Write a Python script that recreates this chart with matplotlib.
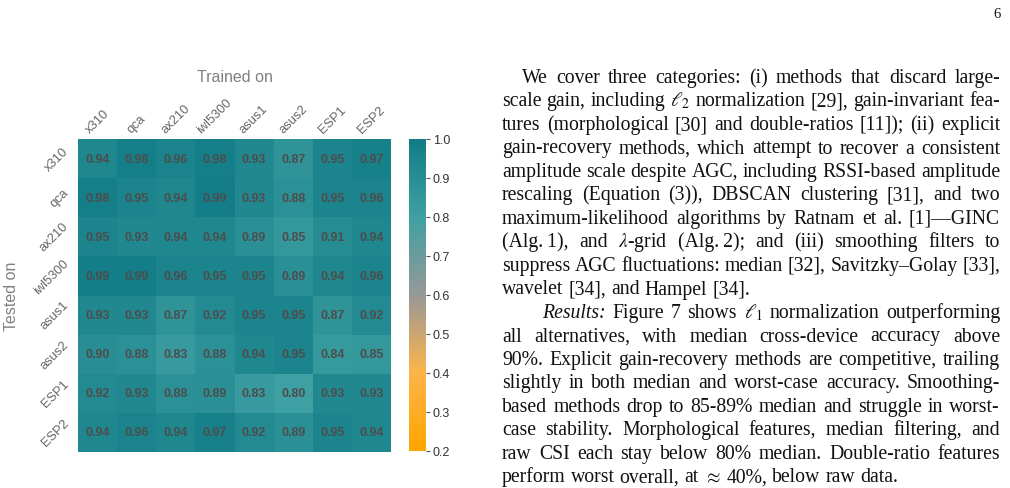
import matplotlib
matplotlib.use("Agg")
import matplotlib.pyplot as plt
import numpy as np
import seaborn as sns
from matplotlib.colors import LinearSegmentedColormap

# ---------------- data ----------------
devices = ["x310", "qca", "ax210", "iwl5300", "asus1", "asus2", "ESP1", "ESP2"]
row_x310 = [0.94, 0.98, 0.96, 0.98, 0.93, 0.87, 0.95, 0.97]
row_qca = [0.98, 0.95, 0.94, 0.99, 0.93, 0.88, 0.95, 0.96]
row_ax210 = [0.95, 0.93, 0.94, 0.94, 0.89, 0.85, 0.91, 0.94]
row_iwl5300 = [0.99, 0.99, 0.96, 0.95, 0.95, 0.89, 0.94, 0.96]
row_asus1 = [0.93, 0.93, 0.87, 0.92, 0.95, 0.95, 0.87, 0.92]
row_asus2 = [0.90, 0.88, 0.83, 0.88, 0.94, 0.95, 0.84, 0.85]
row_esp1 = [0.92, 0.93, 0.88, 0.89, 0.83, 0.80, 0.93, 0.93]
row_esp2 = [0.94, 0.96, 0.94, 0.97, 0.92, 0.89, 0.95, 0.94]
cbar_ticks = [0.2, 0.3, 0.4, 0.5, 0.6, 0.7, 0.8, 0.9, 1.0]

paragraph1 = [
    "We cover three categories: (i) methods that discard large-",
    "scale gain, including $\\ell_2$ normalization [29], gain-invariant fea-",
    "tures (morphological [30] and double-ratios [11]); (ii) explicit",
    "gain-recovery methods, which attempt to recover a consistent",
    "amplitude scale despite AGC, including RSSI-based amplitude",
    "rescaling (Equation (3)), DBSCAN clustering [31], and two",
    "maximum-likelihood algorithms by Ratnam et al. [1]\u2014GINC",
    "(Alg.\u20091), and $\\lambda$-grid (Alg.\u20092); and (iii) smoothing filters to",
    "suppress AGC fluctuations: median [32], Savitzky\u2013Golay [33],",
    "wavelet [34], and Hampel [34].",
]
paragraph2 = [
    "*Results:* Figure 7 shows $\\ell_1$ normalization outperforming",
    "all alternatives, with median cross-device accuracy above",
    "90%. Explicit gain-recovery methods are competitive, trailing",
    "slightly in both median and worst-case accuracy. Smoothing-",
    "based methods drop to 85-89% median and struggle in worst-",
    "case stability. Morphological features, median filtering, and",
    "raw CSI each stay below 80% median. Double-ratio features",
    "perform worst overall, at $\\approx$ 40%, below raw data.",
]

matrix = np.array([row_x310, row_qca, row_ax210, row_iwl5300,
                   row_asus1, row_asus2, row_esp1, row_esp2])

W, H = 1010, 489
fig = plt.figure(figsize=(W / 100, H / 100), dpi=100)
plt.rcParams["mathtext.fontset"] = "stix"

cmap = LinearSegmentedColormap.from_list(
    "orange_teal",
    [(0.0, "#ffa500"), (0.25, "#fdb44a"), (0.5, "#979898"),
     (0.75, "#3fa0a2"), (1.0, "#117c86")])

sans = ["Liberation Sans", "DejaVu Sans"]

def fx(px):
    return px / W

def fy(py):
    return 1 - py / H

ax = fig.add_axes([fx(78), fy(453), fx(391) - fx(78), fy(140) - fy(453)])
cax = fig.add_axes([fx(409), fy(452), fx(426) - fx(409), fy(139.5) - fy(452)])

sns.heatmap(matrix, ax=ax, cbar_ax=cax, cmap=cmap, vmin=0.2, vmax=1.0,
            annot=True, fmt=".2f",
            annot_kws={"fontsize": 9, "fontweight": "bold", "color": "#4d4d4d",
                       "family": sans},
            xticklabels=devices, yticklabels=devices,
            cbar_kws={"ticks": cbar_ticks})

ax.xaxis.tick_top()
ax.xaxis.set_label_position("top")
ax.tick_params(axis="both", length=0, labelsize=9.3, labelcolor="#666666")
ax.tick_params(axis="x", pad=3)
ax.tick_params(axis="y", pad=5)
for lab in ax.get_xticklabels():
    lab.set_rotation(45)
    lab.set_ha("center")
    lab.set_va("bottom")
    lab.set_family(sans)
for lab in ax.get_yticklabels():
    lab.set_rotation(45)
    lab.set_ha("right")
    lab.set_va("center")
    lab.set_family(sans)

ax.set_xlabel("Trained on", fontsize=11.5, color="#808080", family=sans)
ax.xaxis.label.set_va("center")
ax.xaxis.set_label_coords(0.5, (453 - 77) / 313)
ax.set_ylabel("Tested on", fontsize=11.5, color="#808080", family=sans)
ax.yaxis.label.set_va("center")
ax.yaxis.set_label_coords((12 - 78) / 313, 0.5)

cbar = ax.collections[0].colorbar
cbar.outline.set_visible(False)
cbar.set_ticks(cbar_ticks)
cbar.set_ticklabels([f"{t:.1f}" for t in cbar_ticks])
cax.tick_params(length=3, width=0.8, color="#555555", labelsize=9,
                labelcolor="#333333", pad=2)
for lab in cax.get_yticklabels():
    lab.set_family(sans)

# ---------------- justified body text ----------------
serif = ["Liberation Serif", "DejaVu Serif"]
FS = 14.2
left, right = 502, 1000
base0, lead = 83, 23.5
renderer = fig.canvas.get_renderer()

def make_token(tok):
    italic = False
    if tok.startswith("*") and tok.endswith("*"):
        tok = tok[1:-1]
        italic = True
    t = fig.text(0, 0, tok, fontsize=FS, family=serif,
                 style="italic" if italic else "normal",
                 ha="left", va="baseline", color="#111111")
    return t

space_probe = fig.text(0, 0, "a a", fontsize=FS, family=serif)
a_probe = fig.text(0, 0, "aa", fontsize=FS, family=serif)
space_w = (space_probe.get_window_extent(renderer).width
           - a_probe.get_window_extent(renderer).width)
space_probe.remove()
a_probe.remove()

def set_line(text, y, x0, justify):
    toks = text.split(" ")
    objs = [make_token(tk) for tk in toks]
    widths = [o.get_window_extent(renderer).width for o in objs]
    if justify and len(objs) > 1:
        gap = (right - x0 - sum(widths)) / (len(objs) - 1)
    else:
        gap = space_w
    x = x0
    for o, w in zip(objs, widths):
        o.set_position((fx(x), fy(y)))
        x += w + gap

line_idx = 0
for par, indent in ((paragraph1, 20), (paragraph2, 40)):
    for i, line in enumerate(par):
        x0 = left + (indent if i == 0 else 0)
        set_line(line, base0 + line_idx * lead, x0, i < len(par) - 1)
        line_idx += 1

fig.text(fx(1001), fy(18), "6", fontsize=10.5, family=serif, ha="right",
         va="baseline", color="#111111")

fig.savefig("out.png", dpi=100)
